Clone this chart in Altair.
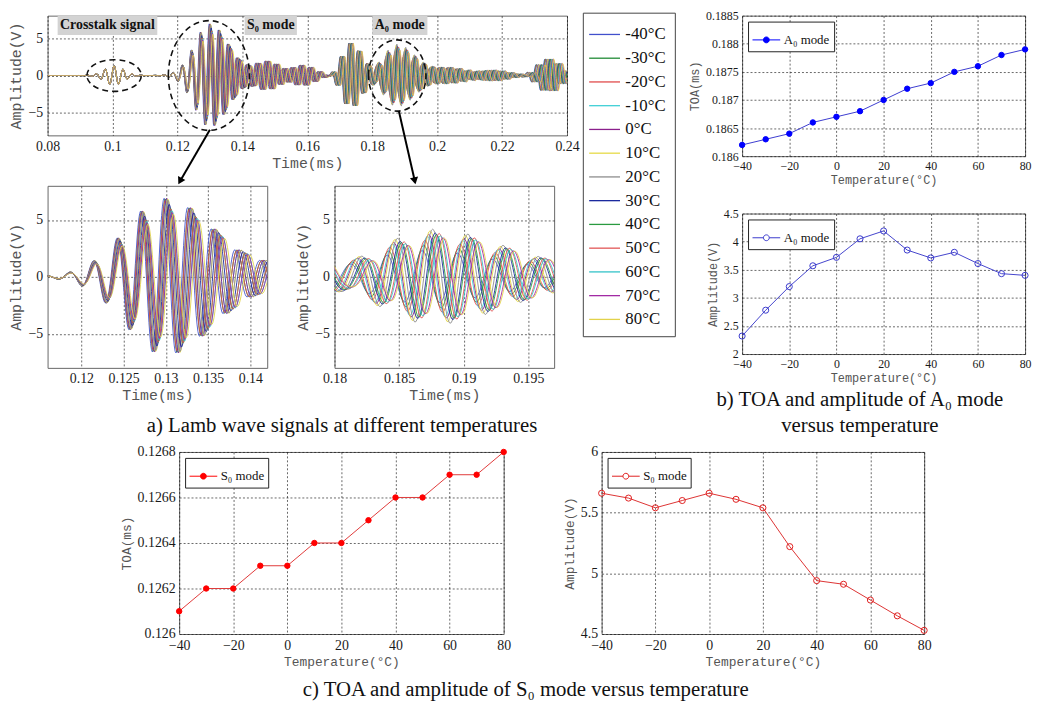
import numpy as np
import pandas as pd
import altair as alt

# ---------------- data ----------------
temps = [-40, -30, -20, -10, 0, 10, 20, 30, 40, 50, 60, 70, 80]
temp_labels = [f"{t}°C" for t in temps]
s0_toa = [0.1261, 0.1262, 0.1262, 0.1263, 0.1263, 0.1264, 0.1264, 0.1265, 0.1266, 0.1266, 0.1267, 0.1267, 0.1268]
s0_amp = [5.66, 5.62, 5.54, 5.60, 5.66, 5.61, 5.54, 5.22, 4.94, 4.91, 4.78, 4.65, 4.53]
a0_toa = [0.1862, 0.1863, 0.1864, 0.1866, 0.1867, 0.1868, 0.1870, 0.1872, 0.1873, 0.1875, 0.1876, 0.1878, 0.1879]
a0_amp = [2.32, 2.78, 3.20, 3.57, 3.72, 4.05, 4.19, 3.85, 3.71, 3.81, 3.61, 3.43, 3.40]
line_colors = ["#4150cc", "#1f8a34", "#e04a4a", "#3fcfd6", "#8a1f8c", "#e6da45", "#8c8c8c",
               "#1b2a9e", "#2a9a40", "#e25555", "#33c2c8", "#a22aa4", "#e2d24a"]

# wave packets seen in the recorded signal (reference curve at -40°C)
pk_center = [0.1005, 0.1298, 0.1470, 0.1575, 0.1728, 0.1868, 0.2030, 0.2160, 0.2332]
pk_sigma_l = [0.0030, 0.0047, 0.0040, 0.0040, 0.0026, 0.0042, 0.0050, 0.0050, 0.0030]
pk_sigma_r = [0.0030, 0.0056, 0.0045, 0.0040, 0.0036, 0.0058, 0.0060, 0.0050, 0.0035]
pk_peak = [1.3, 6.9, 1.9, 1.4, 4.3, 4.0, 1.0, 0.7, 2.2]
pk_freq = [360, 357, 352, 352, 372, 365, 360, 360, 360]
pk_mode = ["X", "S0", "S0", "S0", "A0", "A0", "A0", "A0", "A0"]
pk_shift = [0.0, 1.0, 1.0, 1.0, 0.8, 1.0, 1.2, 1.4, 1.6]

# annotation content
box_text = ["Crosstalk signal", "S₀ mode", "A₀ mode"]
box_t0 = [0.0831, 0.1407, 0.1800]
box_t1 = [0.1138, 0.1568, 0.1970]
ell_t = [0.1005, 0.1297, 0.1877]
arr_t0 = [0.1300, 0.1882]
arr_v0 = [-7.25, -4.75]
arr_t1 = [0.1208, 0.1931]
arr_v1 = [-14.12, -14.07]
arr_angle = [28, 348]

# ---------------- build waveform table ----------------
t = np.round(np.arange(0.08, 0.24 + 1e-9, 0.0001), 5)
frames = []
for i, lab in enumerate(temp_labels):
    dS = s0_toa[i] - s0_toa[0]
    dA = a0_toa[i] - a0_toa[0]
    v = np.zeros_like(t)
    for k in range(len(pk_center)):
        if pk_mode[k] == "S0":
            sh = dS * np.clip((t - 0.1175) / (s0_toa[0] - 0.1175), 0, 2.5)
        elif pk_mode[k] == "A0":
            sh = dA * pk_shift[k]
        else:
            sh = 0.0
        tt = t - sh - pk_center[k]
        sig = np.where(tt < 0, pk_sigma_l[k], pk_sigma_r[k])
        amp = pk_peak[k]
        if k == 1:
            amp = pk_peak[k] * s0_amp[i] / s0_amp[0]
        if k == 5:
            amp = a0_amp[i]
        v = v + amp * np.exp(-tt ** 2 / (2 * sig ** 2)) * np.cos(2 * np.pi * pk_freq[k] * tt)
    frames.append(pd.DataFrame({"t": t, "v": np.round(v, 3), "label": lab}))
wave_df = pd.concat(frames, ignore_index=True)

serif = "Liberation Serif"
mono = "Liberation Mono"

color_scale = alt.Scale(domain=temp_labels, range=line_colors)
wave_legend = alt.Legend(title=None, orient="none", legendX=541, legendY=-3, direction="vertical",
                         symbolType="M -1.3 0 L 1.3 0", symbolSize=576, symbolStrokeWidth=1.3,
                         labelFont=serif, labelFontSize=17, labelColor="#111", labelOffset=8,
                         rowPadding=3, padding=9, strokeColor="#444", fillColor="white")


def ellipse_path(rx, ry):
    k = 0.5523
    return (f"M {-rx} 0 C {-rx} {-k*ry} {-k*rx} {-ry} 0 {-ry} "
            f"C {k*rx} {-ry} {rx} {-k*ry} {rx} 0 "
            f"C {rx} {k*ry} {k*rx} {ry} 0 {ry} "
            f"C {-k*rx} {ry} {-rx} {k*ry} {-rx} 0 Z")


def wave_panel(domain, xticks, w, h, lab_size, title_size, annotate=False):
    xs = alt.Scale(domain=domain, nice=False, zero=False)
    ys = alt.Scale(domain=[-8, 8], nice=False)
    xa = alt.Axis(values=xticks, format="~g", title="Time(ms)", labelFontSize=lab_size,
                  titleFontSize=title_size, labelPadding=4, titlePadding=2)
    ya = alt.Axis(values=[-5, 0, 5], title="Amplitude(V)", labelFontSize=lab_size,
                  titleFontSize=title_size, labelPadding=5, titlePadding=4)
    lo, hi = domain[0] - 0.0004, domain[1] + 0.0004
    lines = alt.Chart(wave_df).transform_filter(
        f"datum.t >= {lo} && datum.t <= {hi}"
    ).mark_line(strokeWidth=0.9, clip=True).encode(
        x=alt.X("t:Q", scale=xs, axis=xa),
        y=alt.Y("v:Q", scale=ys, axis=ya),
        color=alt.Color("label:N", scale=color_scale, legend=wave_legend),
    )
    layers = [lines]
    if annotate:
        bdf = pd.DataFrame({"t": box_t0, "t1": box_t1, "txt": box_text})
        bdf["tc"] = (bdf["t"] + bdf["t1"]) / 2
        bdf["v"] = 8.0
        bdf["v1"] = 5.4
        bdf["vc"] = 6.7
        boxes = alt.Chart(bdf).mark_rect(fill="#d3d3d3", clip=False).encode(
            x=alt.X("t:Q", scale=xs, axis=xa), x2="t1:Q",
            y=alt.Y("v:Q", scale=ys, axis=ya), y2="v1:Q")
        texts = alt.Chart(bdf).mark_text(font=serif, fontWeight="bold", fontSize=14, color="#111").encode(
            x=alt.X("tc:Q", scale=xs, axis=xa), y=alt.Y("vc:Q", scale=ys, axis=ya), text="txt:N")
        layers += [boxes, texts]
        ell_specs = [(55, 32), (82, 111), (58, 72)]
        for k, (ew, eh) in enumerate(ell_specs):
            m = max(ew, eh)
            path = ellipse_path(round(ew / m, 3), round(eh / m, 3))
            edf = pd.DataFrame({"t": [ell_t[k]], "v": [0.0]})
            layers.append(alt.Chart(edf).mark_point(shape=path, size=m * m, filled=False, stroke="#111",
                                                    strokeWidth=1.6, strokeDash=[6, 4], opacity=1,
                                                    clip=False).encode(
                x=alt.X("t:Q", scale=xs, axis=xa), y=alt.Y("v:Q", scale=ys, axis=ya)))
        adf = pd.DataFrame({"t": arr_t0, "v": arr_v0, "t1": arr_t1, "v1": arr_v1, "ang": arr_angle})
        layers.append(alt.Chart(adf).mark_rule(color="#000", strokeWidth=2, clip=False).encode(
            x=alt.X("t:Q", scale=xs, axis=xa), y=alt.Y("v:Q", scale=ys, axis=ya), x2="t1:Q", y2="v1:Q"))
        layers.append(alt.Chart(adf).mark_point(shape="triangle-down", size=70, filled=True, color="#000",
                                                opacity=1, clip=False).encode(
            x=alt.X("t1:Q", scale=xs, axis=xa), y=alt.Y("v1:Q", scale=ys, axis=ya),
            angle=alt.Angle("ang:Q", scale=None)))
    return alt.layer(*layers).properties(width=w, height=h)


main = wave_panel([0.08, 0.24], [0.08, 0.1, 0.12, 0.14, 0.16, 0.18, 0.2, 0.22, 0.24], 525, 121, 14, 15, True)
zoom1 = wave_panel([0.116, 0.142], [0.12, 0.125, 0.13, 0.135, 0.14], 222, 184, 14, 15)
zoom2 = wave_panel([0.18, 0.197], [0.18, 0.185, 0.19, 0.195], 222, 184, 14, 15)

PATH_LEG = ("M -1 0 L -0.21 0 M 0.21 0 L 1 0 M -0.21 0 C -0.21 -0.116 -0.116 -0.21 0 -0.21 "
            "C 0.116 -0.21 0.21 -0.116 0.21 0 C 0.21 0.116 0.116 0.21 0 0.21 "
            "C -0.116 0.21 -0.21 0.116 -0.21 0 Z")


def small_panel(values, series, ydom, yticks, ytitle, line_col, pt_col, filled, w, h, lab_size, title_size):
    df = pd.DataFrame({"temp": temps, "val": values, "series": series})
    xs = alt.Scale(domain=[-40, 80], nice=False)
    ys = alt.Scale(domain=ydom, nice=False, zero=False)
    xa = alt.Axis(values=[-40, -20, 0, 20, 40, 60, 80], title="Temperature(°C)", labelFontSize=lab_size,
                  titleFontSize=title_size, labelPadding=5, titlePadding=3)
    ya = alt.Axis(values=yticks, format="~g", title=ytitle, labelFontSize=lab_size,
                  titleFontSize=title_size, labelPadding=4, titlePadding=4)
    line = alt.Chart(df).mark_line(color=line_col, strokeWidth=1).encode(
        x=alt.X("temp:Q", scale=xs, axis=xa), y=alt.Y("val:Q", scale=ys, axis=ya))
    leg = alt.Legend(title=None, orient="top-left", offset=6, symbolType=PATH_LEG, symbolSize=784,
                     symbolStrokeWidth=1, labelFont=serif, labelFontSize=13, labelColor="#111",
                     padding=4, strokeColor="#222", fillColor="white", cornerRadius=0, labelOffset=3)
    if filled:
        pts = alt.Chart(df).mark_point(filled=False, fill=pt_col, fillOpacity=1, size=30, strokeWidth=1,
                                       opacity=1)
    else:
        pts = alt.Chart(df).mark_point(filled=False, size=38, strokeWidth=1, opacity=1)
    pts = pts.encode(x=alt.X("temp:Q", scale=xs, axis=xa), y=alt.Y("val:Q", scale=ys, axis=ya),
                     color=alt.Color("series:N", scale=alt.Scale(domain=[series], range=[pt_col]), legend=leg))
    return alt.layer(line, pts).properties(width=w, height=h)


a0_toa_p = small_panel(a0_toa, "A₀ mode", [0.186, 0.1885], [0.186, 0.1865, 0.187, 0.1875, 0.188, 0.1885],
                       "TOA(ms)", "#3c3ccf", "#0000ff", True, 286, 142, 12, 12)
a0_amp_p = small_panel(a0_amp, "A₀ mode", [2, 4.5], [2, 2.5, 3, 3.5, 4, 4.5],
                       "Amplitude(V)", "#4444cc", "#3a3acc", False, 286, 142, 12, 12)
s0_toa_p = small_panel(s0_toa, "S₀ mode", [0.126, 0.1268], [0.126, 0.1262, 0.1264, 0.1266, 0.1268],
                       "TOA(ms)", "#e03a3a", "#ff0000", True, 328, 184, 14, 13)
s0_amp_p = small_panel(s0_amp, "S₀ mode", [4.5, 6], [4.5, 5, 5.5, 6],
                       "Amplitude(V)", "#dd3333", "#e02020", False, 326, 184, 14, 13)

cap_style = dict(orient="bottom", anchor="middle", font=serif, fontSize=21, fontWeight="normal",
                 color="#111", lineHeight=26)

zoom_row = alt.hconcat(zoom1, zoom2, spacing=27)
block_a = alt.vconcat(main, zoom_row, spacing=0).properties(
    title=alt.TitleParams("a) Lamb wave signals at different temperatures", offset=12, **cap_style))
block_b = alt.vconcat(a0_toa_p, a0_amp_p, spacing=20).resolve_scale(color="independent").properties(
    title=alt.TitleParams(["b) TOA and amplitude of A₀ mode", "versus temperature"], offset=5, **cap_style))
block_c = alt.hconcat(s0_toa_p, s0_amp_p, spacing=52).resolve_scale(color="independent").properties(
    title=alt.TitleParams("c) TOA and amplitude of S₀ mode versus temperature", offset=10, **cap_style))
top_row = alt.hconcat(block_a, block_b, spacing=12).resolve_scale(color="independent")

# empty spacer that indents the bottom block
spacer = alt.Chart(pd.DataFrame({"temp": [0]})).mark_point(opacity=0).properties(
    width=72, height=10, view=alt.ViewBackground(stroke="transparent"))
bottom_row = alt.hconcat(spacer, block_c, spacing=0).resolve_scale(color="independent")

chart = alt.vconcat(top_row, bottom_row, spacing=8).resolve_scale(color="independent").properties(
    padding={"left": 0, "top": -3, "right": 0, "bottom": 0}
).configure_axis(
    labelFont=serif, labelColor="#1a1a1a", titleFont=mono, titleColor="#555", titleFontWeight="normal",
    grid=True, gridColor="#111", gridDash=[2, 2], gridWidth=0.7, gridOpacity=0.9,
    domain=False, ticks=False, labelOverlap=False, labelFlush=False
).configure_view(stroke="#666", strokeWidth=1)

chart.save("out.html", embed_options={"renderer": "svg", "actions": False})
